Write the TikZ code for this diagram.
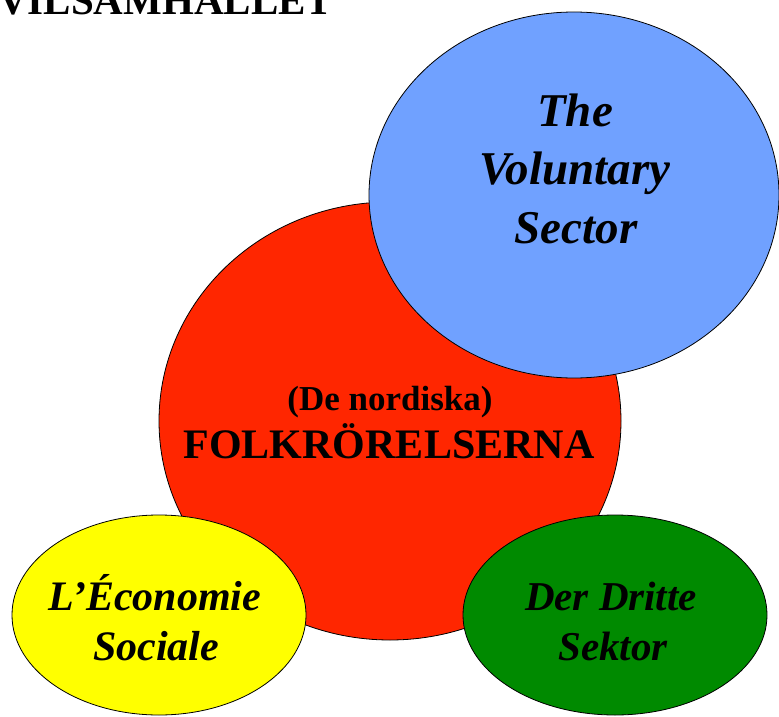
\documentclass[tikz,border=0pt]{standalone}
\usepackage{fontspec}
\setmainfont{Liberation Serif}
\definecolor{redc}{HTML}{FF2600}
\definecolor{bluec}{HTML}{70A1FF}
\definecolor{greenc}{HTML}{008A00}
\definecolor{yellowc}{HTML}{FFFF00}
\tikzset{
  blob/.style={draw=black, line width=0.8pt},
  lbl/.style={inner sep=0pt, anchor=base, text=black},
  titlefont/.style={font=\fontsize{41}{48}\selectfont\bfseries},
  redfont/.style={font=\fontsize{#1}{#1}\selectfont\bfseries},
  itfont/.style={font=\fontsize{#1}{#1}\selectfont\bfseries\itshape},
}
\begin{document}
\begin{tikzpicture}[x=1pt,y=-1pt]
\useasboundingbox (0,0) rectangle (779,717);
% shapes
\draw[blob, fill=redc] (390,421) ellipse [x radius=231, y radius=219];
\draw[blob, fill=bluec] (574,195) ellipse [x radius=205, y radius=183];
\draw[blob, fill=yellowc] (159,615) ellipse [x radius=147, y radius=100];
\draw[blob, fill=greenc] (615,615) ellipse [x radius=152, y radius=100];
% title
\node[titlefont, inner sep=0pt, anchor=base west] (title) at (-2,15) {VILSAMHÄLLET};
% blue texts
\node[lbl, itfont=47] (vs1) at (575,126) {The};
\node[lbl, itfont=47] (vs2) at (575,184) {Voluntary};
\node[lbl, itfont=47] (vs3) at (576,243) {Sector};
% red texts
\node[lbl, redfont=35] (fr1) at (390,410) {(De nordiska)};
\node[lbl, redfont=42] (fr2) at (389,458) {FOLKRÖRELSERNA};
% yellow texts
\node[lbl, itfont=42] (es1) at (155,610) {L’Économie};
\node[lbl, itfont=42] (es2) at (156,660) {Sociale};
% green texts
\node[lbl, itfont=41] (ds1) at (611,610) {Der Dritte};
\node[lbl, itfont=41] (ds2) at (613,660) {Sektor};
\end{tikzpicture}
\end{document}
